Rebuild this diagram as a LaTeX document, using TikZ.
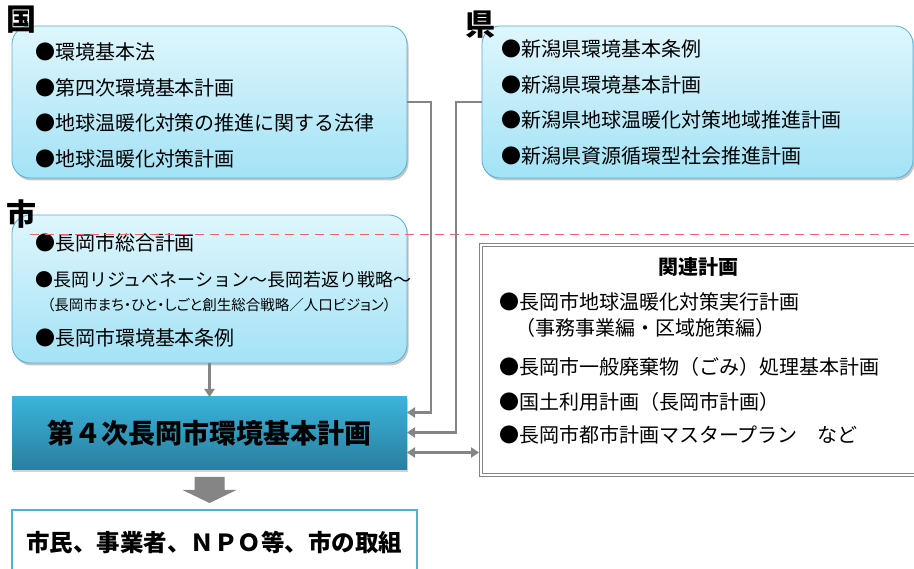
\documentclass[tikz,border=0pt]{standalone}
\usepackage{fontspec}
\setmainfont{Noto Sans CJK JP}
\newfontfamily\propfont[RawFeature=+palt]{Noto Sans CJK JP}
\usepackage{tikz}
\usetikzlibrary{positioning,calc,shadows,arrows.meta}

\definecolor{boxtop}{HTML}{DFF6FD}
\definecolor{boxbot}{HTML}{A3E2F6}
\definecolor{boxline}{HTML}{52B1D3}
\definecolor{plantop}{HTML}{3AB3DA}
\definecolor{planbot}{HTML}{2A7E9F}
\definecolor{connline}{HTML}{858585}
\definecolor{dashred}{HTML}{E8666B}

\begin{document}
\begin{tikzpicture}[x=1pt,y=-1pt,>={Triangle[length=8pt,width=10pt]},
    every node/.style={inner sep=0pt,outer sep=0pt},
    areabox/.style={draw=boxline,line width=0.8pt,rounded corners=18pt,
      top color=boxtop,bottom color=boxbot,anchor=north west,
      drop shadow={shadow xshift=1.5pt,shadow yshift=-2.5pt,opacity=0.45}},
    arealabel/.style={font=\fontsize{30}{30}\selectfont\bfseries},
    items/.style={align=left,anchor=west,font=\fontsize{20}{35.5}\selectfont},
    conn/.style={draw=connline,line width=2.2pt},
    dashline/.style={draw=dashred,line width=0.9pt,dash pattern=on 9pt off 6pt}]
  \useasboundingbox (0,0) rectangle (914,569);

  % national / prefectural / city boxes
  \node[areabox,minimum width=395pt,minimum height=152pt] (kuni) at (12,26) {};
  \node[areabox,minimum width=431pt,minimum height=152pt] (ken) at (482,26) {};
  \node[areabox,minimum width=395pt,minimum height=148pt] (shi) at (12,215) {};

  \node[arealabel] (kuniLabel) at (21,20) {国};
  \node[arealabel] (kenLabel) at (480,25) {県};
  \node[arealabel] (shiLabel) at (21,214) {市};

  \node[items] (kuniText) at (35,105.5) {●環境基本法\\●第四次環境基本計画\\●地球温暖化対策の推進に関する法律\\●地球温暖化対策計画};
  \node[items] (kenText) at (501,102.5)
    {●新潟県環境基本条例\\●新潟県環境基本計画\\●新潟県地球温暖化対策地域推進計画\\●新潟県資源循環型社会推進計画};
  \node[items,font=\fontsize{20}{36}\selectfont] (shiText) at (35,290.5)
    {●長岡市総合計画\\{\fontsize{18}{18}\selectfont ●長岡リジュベネーション～長岡若返り戦略～}\\[-12pt]
     {\propfont\fontsize{14.5}{18}\selectfont \hspace*{12pt}（長岡市まち・ひと・しごと創生総合戦略／人口ビジョン）}\\[-1pt]
     ●長岡市環境基本条例};

  % main plan and related plans
  \node[anchor=north west,minimum width=395pt,minimum height=73pt,
    top color=plantop,bottom color=planbot,
    drop shadow={shadow xshift=1pt,shadow yshift=-2pt,opacity=0.35},
    font=\fontsize{27}{27}\selectfont\bfseries] (plan) at (12,397) {第４次長岡市環境基本計画};

  \node[anchor=north west,minimum width=450pt,minimum height=230pt,fill=white,
    draw=connline,line width=1.2pt,double=white,double distance=1.6pt] (rel) at (481,245) {};
  \node[font=\fontsize{20}{20}\selectfont\bfseries] (relTitle) at (698,267) {関連計画};
  \node[items,font=\fontsize{20}{35}\selectfont] (relText) at (499,368.5)
    {●長岡市地球温暖化対策実行計画\\[-9pt]\hspace*{16pt}（事務事業編・区域施策編）\\[4pt]
     ●長岡市一般廃棄物（ごみ）処理基本計画\\●国土利用計画（長岡市計画）\\[-2pt]
     ●長岡市都市計画マスタープラン　など};

  \node[anchor=north west,minimum width=405pt,minimum height=65pt,fill=white,
    draw=boxline,line width=2.5pt,font=\fontsize{23.5}{23.5}\selectfont\bfseries] (torikumi) at (12,510)
    {市民、事業者、ＮＰＯ等、市の取組};

  \coordinate (dashL) at (30,234);
  \coordinate (dashR) at (914,234);
  \draw[dashline] (dashL) -- (dashR);

  % connectors
  \draw[conn,->] (shi.south) -- (plan.north);
  \draw[conn,->] (kuni.east) -- ++(24,0) |- ($(plan.east)+(0,-21)$);
  \draw[conn,->] (ken.west) -- ++(-26,0) |- ($(plan.east)+(0,-1)$);
  \draw[conn,<->] ($(plan.east)+(0,19)$) -- ($(rel.west |- plan.east)+(-2,19)$);

  \fill[connline] ($(plan.south)+(-15,7)$) -- ++(30,0) -- ++(0,13) -- ++(12,0)
    -- ($(plan.south)+(0,33)$) -- ($(plan.south)+(-27,20)$) -- ++(12,0) -- cycle;
\end{tikzpicture}
\end{document}
